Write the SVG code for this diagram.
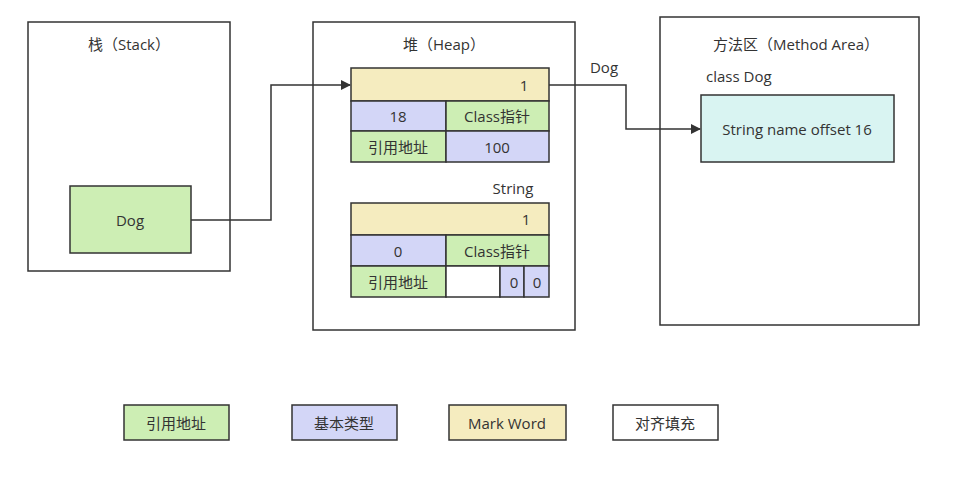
<svg xmlns="http://www.w3.org/2000/svg" width="970" height="477" viewBox="0 0 970 477">
<style>
text{font-family:"Open Sans","Noto Sans CJK SC",sans-serif;font-size:15px;fill:#333;}
.c{text-anchor:middle;dominant-baseline:central}
.f{stroke:#333;stroke-width:1.5}
.g{fill:#cdeeb4}.b{fill:#d3d6f7}.y{fill:#f5ecbf}.w{fill:#fff}.t{fill:#d9f4f2}
</style>
<defs><marker id="a" markerWidth="10" markerHeight="10" refX="9" refY="5" orient="auto" markerUnits="userSpaceOnUse"><path d="M0,0L10,5L0,10z" fill="#333"/></marker></defs>
<g id="stack"><rect x="28" y="22" width="202" height="249" class="f w"/><text x="129" y="44" class="c">栈（Stack）</text></g>
<g id="heap"><rect x="313" y="22" width="262" height="308" class="f w"/><text x="444" y="44" class="c">堆（Heap）</text></g>
<g id="method"><rect x="660" y="17" width="259" height="308" class="f w"/><text x="796" y="44" class="c">方法区（Method Area）</text><text x="706" y="76" dominant-baseline="central">class Dog</text></g>
<g id="dog"><rect x="70" y="186" width="121" height="67" class="f g"/><text x="130" y="220" class="c">Dog</text></g>
<g id="obj1">
<rect x="351" y="68" width="198" height="33" class="f y"/><text x="524" y="85" class="c">1</text>
<rect x="351" y="101" width="95" height="30" class="f b"/><text x="398" y="116" class="c">18</text>
<rect x="446" y="101" width="103" height="30" class="f g"/><text x="497" y="116" class="c">Class指针</text>
<rect x="351" y="131" width="95" height="31" class="f g"/><text x="398" y="147" class="c">引用地址</text>
<rect x="446" y="131" width="103" height="31" class="f b"/><text x="497" y="147" class="c">100</text>
</g>
<g id="obj2">
<text x="513" y="188" class="c">String</text>
<rect x="351" y="203" width="198" height="32" class="f y"/><text x="526" y="219" class="c">1</text>
<rect x="351" y="235" width="95" height="31" class="f b"/><text x="398" y="251" class="c">0</text>
<rect x="446" y="235" width="103" height="31" class="f g"/><text x="497" y="251" class="c">Class指针</text>
<rect x="351" y="266" width="95" height="31" class="f g"/><text x="398" y="282" class="c">引用地址</text>
<rect x="446" y="266" width="54" height="31" class="f w"/>
<rect x="500" y="266" width="24" height="31" class="f b"/><text x="514" y="282" class="c">0</text>
<rect x="524" y="266" width="25" height="31" class="f b"/><text x="537" y="282" class="c">0</text>
</g>
<g id="klass"><rect x="701" y="95" width="193" height="67" class="f t"/><text x="797" y="129" class="c">String name offset 16</text></g>
<g id="legend">
<rect x="124" y="405" width="105" height="35" class="f g"/><text x="176" y="423" class="c">引用地址</text>
<rect x="292" y="405" width="105" height="35" class="f b"/><text x="344" y="423" class="c">基本类型</text>
<rect x="449" y="405" width="117" height="35" class="f y"/><text x="507" y="423" class="c">Mark Word</text>
<rect x="613" y="405" width="105" height="35" class="f w"/><text x="665" y="423" class="c">对齐填充</text>
</g>
<g id="connectors" fill="none" stroke="#333" stroke-width="1.5">
<path d="M191,220H271V85H350" marker-end="url(#a)"/>
<path d="M549,85H626V129H700" marker-end="url(#a)"/>
<text x="604" y="67" class="c" stroke="none">Dog</text>
</g>
</svg>
